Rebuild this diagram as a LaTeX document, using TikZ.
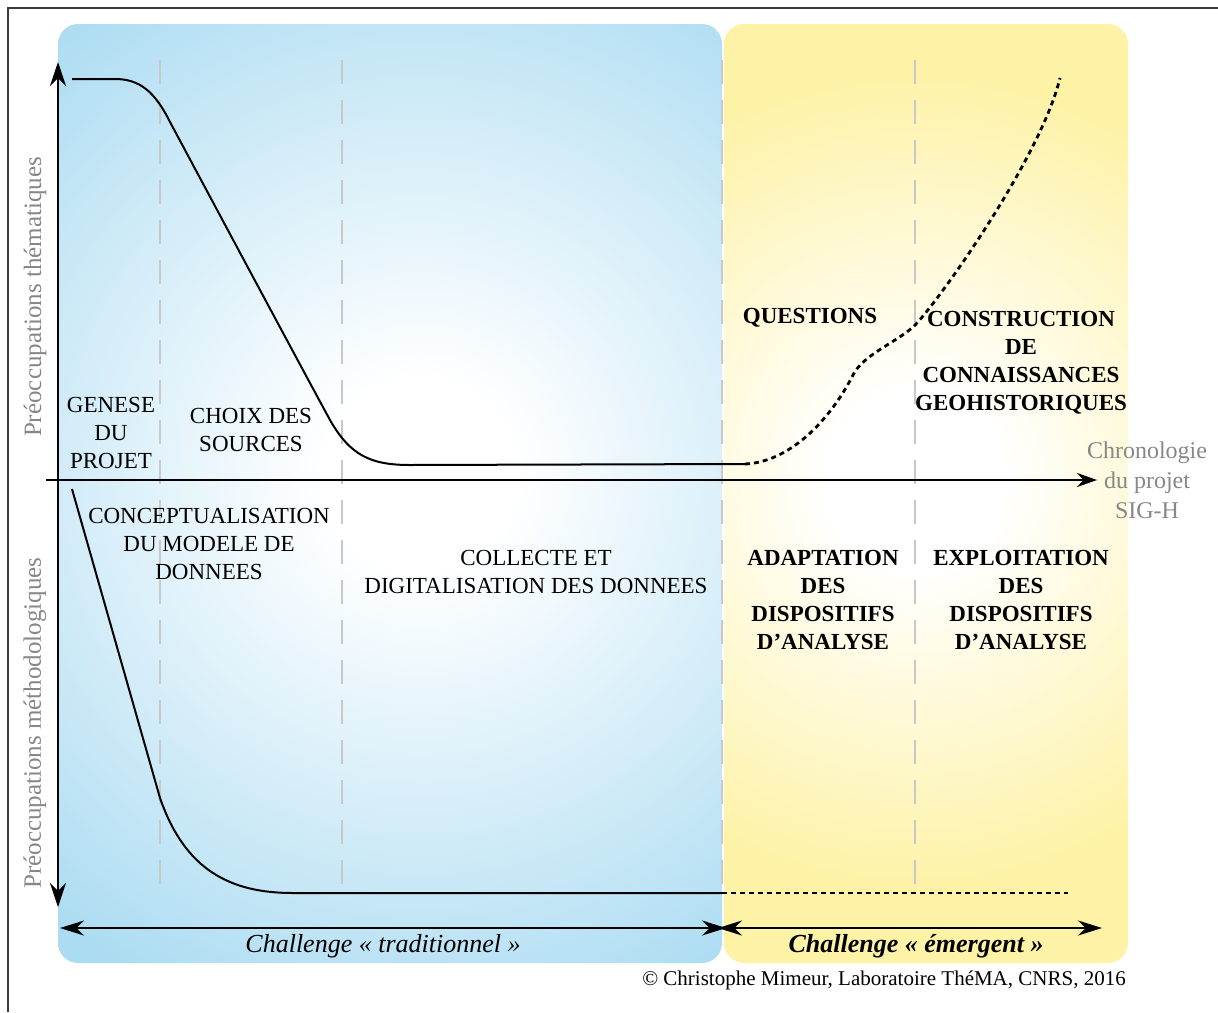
\documentclass[tikz,border=0pt]{standalone}
\usepackage{fontspec}
\setmainfont{Liberation Serif}
\usepackage{tikz}
\usetikzlibrary{positioning}
\usetikzlibrary{arrows.meta}
\usetikzlibrary{calc}

\definecolor{paneblue}{RGB}{172,220,242}
\definecolor{paneyellow}{RGB}{254,242,166}
\definecolor{sidegray}{RGB}{135,135,135}
\definecolor{gridgray}{RGB}{200,200,200}
\definecolor{framegray}{RGB}{60,60,60}
\pgfdeclareradialshading{bluefade}{\pgfpoint{0bp}{0bp}}{color(0bp)=(white); color(4bp)=(white); color(24bp)=(paneblue); color(50bp)=(paneblue)}
\pgfdeclareradialshading{yellowfade}{\pgfpoint{0bp}{0bp}}{color(0bp)=(white); color(4bp)=(white); color(19bp)=(paneyellow); color(50bp)=(paneyellow)}

\begin{document}
\begin{tikzpicture} [
            x=0.5pt, y=-0.5pt,
            lbl/.style={font=\fontsize{11.5}{14}\selectfont, align=center, inner sep=0pt},
            lblb/.style={lbl, font=\fontsize{11.5}{14}\selectfont\bfseries},
            side/.style={font=\fontsize{12.5}{15}\selectfont, text=sidegray, rotate=90, inner sep=0pt},
            chal/.style={font=\fontsize{13}{15}\selectfont\itshape, inner sep=0pt},
            axis/.style={line width=1.25pt},
            curve/.style={line width=1pt},
            dots/.style={line width=1.4pt, dash pattern=on 2.5pt off 2pt},
            grid/.style={gridgray, line width=1pt, dash pattern=on 12pt off 8pt}
        ]
        \useasboundingbox (0,0) rectangle (1218,1012);
        \draw[framegray, line width=0.75pt] (8,1012) -- (8,8) -- (1218,8);
        % panels
        \begin{scope}
            \clip[rounded corners=10pt] (58,24) rectangle (722,963);
            \shade[shading=bluefade] (420,475) circle (600);
        \end{scope}
        \begin{scope}
            \clip[rounded corners=10pt] (724,24) rectangle (1128,963);
            \shade[shading=yellowfade] (915,480) circle (540);
        \end{scope}
        \foreach \gx in {160,342,722,915}
            \draw[grid] (\gx,60) -- (\gx,895);
        % axes
        \coordinate (ytop) at (58,62);
        \coordinate (ybot) at (58,907);
        \coordinate (xleft) at (46,480);
        \coordinate (xright) at (1097,480);
        \draw[axis, {Stealth[length=12pt,width=8pt]}-{Stealth[length=12pt,width=8pt]}] (ytop) -- (ybot);
        \draw[axis, -{Stealth[length=10pt,width=7pt]}] (xleft) -- (xright);
        % curves
        \draw[curve] (72,79) -- (115,79) .. controls (140,79) and (155,92) .. (170,122)
            .. controls (185,150) and (300,365) .. (330,420)
            .. controls (350,455) and (370,465) .. (410,465) -- (745,464);
        \draw[dots] (745,464) .. controls (790,462) and (830,420) .. (853,375)
            .. controls (863,355) and (895,343) .. (913,327)
            .. controls (933,309) and (1040,160) .. (1060,78);
        \draw[curve] (72,489) -- (160,798) .. controls (185,870) and (230,893) .. (293,893) -- (722,893);
        \draw[dots] (722,893) -- (1068,893);
        % bottom arrows
        \coordinate (tradl) at (60,928);
        \coordinate (tradr) at (726,928);
        \coordinate (emergl) at (718,928);
        \coordinate (emergr) at (1102,928);
        \draw[axis, {Stealth[length=12pt,width=7.5pt]}-{Stealth[length=12pt,width=7.5pt]}] (tradl) -- (tradr);
        \draw[axis, {Stealth[length=12pt,width=7.5pt]}-{Stealth[length=12pt,width=7.5pt]}] (emergl) -- (emergr);
        % labels
        \node[lbl] (genese) at (111,433) {GENESE\\DU\\PROJET};
        \node[lbl] (choix) at (251,430) {CHOIX DES\\SOURCES};
        \node[lblb] (questions) at (810,318) {QUESTIONS};
        \node[lblb] (construction) at (1021,363) {CONSTRUCTION\\DE\\CONNAISSANCES\\GEOHISTORIQUES};
        \node[lbl] (concept) at (209,544) {CONCEPTUALISATION\\DU MODELE DE\\DONNEES};
        \node[lbl] (collecte) at (536,572) {COLLECTE ET\\DIGITALISATION DES DONNEES};
        \node[lblb] (adaptation) at (823,600) {ADAPTATION\\DES\\DISPOSITIFS\\D’ANALYSE};
        \node[lblb] (exploitation) at (1021,600) {EXPLOITATION\\DES\\DISPOSITIFS\\D’ANALYSE};
        \node[side] (thema) at (35,297) {Préoccupations thématiques};
        \node[side] (metho) at (35,723) {Préoccupations méthodologiques};
        \node[lbl, font=\fontsize{12}{15}\selectfont, text=sidegray] (chrono) at (1147,480) {Chronologie\\du projet\\SIG-H};
        \node[chal] (trad) at (383,946) {Challenge «~traditionnel~»};
        \node[chal, font=\fontsize{13}{15}\selectfont\bfseries\itshape] (emerg) at (916,946) {Challenge «~émergent~»};
        \node[inner sep=0pt, font=\fontsize{10.5}{12}\selectfont] (credit) at (884,980) {© Christophe Mimeur, Laboratoire ThéMA, CNRS, 2016};
    \end{tikzpicture}
\end{document}
